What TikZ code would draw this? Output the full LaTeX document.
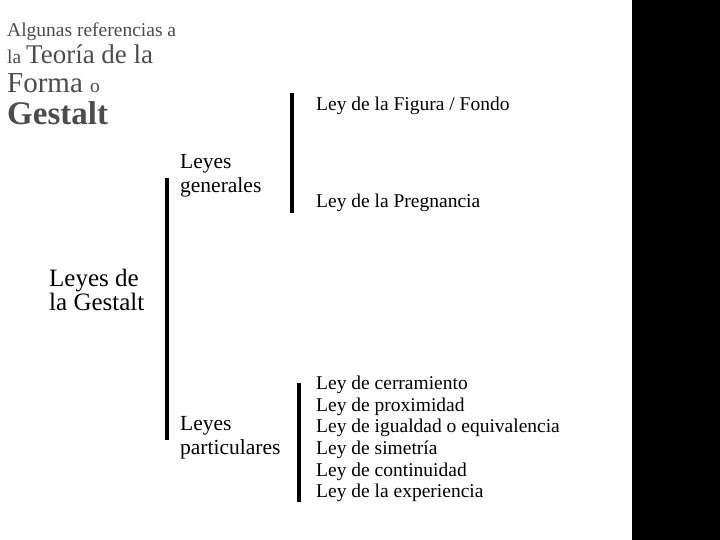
\documentclass[tikz,border=0pt]{standalone}
\usepackage{fontspec}
\setmainfont{Liberation Serif}
\begin{document}
\begin{tikzpicture}[x=1pt,y=-1pt,
  bar/.style={line width=4pt},
  item/.style={anchor=west,inner sep=0pt,font=\fontsize{19.5}{21.6}\selectfont,align=left},
  lab/.style={anchor=west,inner sep=0pt,font=\fontsize{21.5}{24}\selectfont,align=left},
  ttl/.style={anchor=base west,inner sep=0pt,text=black!70}]
\useasboundingbox (0,0) rectangle (720,540);
\fill[white] (0,0) rectangle (720,540);
\fill[black] (632,0) rectangle (720,540);
% title
\node[ttl,font=\fontsize{19.5}{20}\selectfont] (t1) at (7,37) {Algunas referencias a};
\node[ttl] (t2) at (7,64) {{\fontsize{19.5}{20}\selectfont la }{\fontsize{27}{28}\selectfont Teoría de la}};
\node[ttl] (t3) at (7,93) {{\fontsize{29}{30}\selectfont Forma }{\fontsize{19.5}{20}\selectfont o}};
\node[ttl,font=\fontsize{33}{34}\selectfont\bfseries] (t4) at (7,125) {Gestalt};
% labels
\node[lab,font=\fontsize{25}{24}\selectfont] (gest) at (49,290) {Leyes de\\la Gestalt};
\node[lab] (gen) at (180,176) {Leyes\\generales};
\node[lab] (par) at (180,438) {Leyes\\particulares};
\node[item] (fig) at (316,106) {Ley de la Figura / Fondo};
\node[item] (pre) at (316,203) {Ley de la Pregnancia};
\node[item] (lst) at (316,439) {Ley de cerramiento\\Ley de proximidad\\Ley de igualdad o equivalencia\\Ley de simetría\\Ley de continuidad\\Ley de la experiencia};
% bars
\coordinate (b1a) at (167,178); \coordinate (b1b) at (167,440);
\coordinate (b2a) at (292,93); \coordinate (b2b) at (292,213);
\coordinate (b3a) at (299,383); \coordinate (b3b) at (299,502);
\draw[bar] (b1a) -- (b1b);
\draw[bar] (b2a) -- (b2b);
\draw[bar] (b3a) -- (b3b);
\end{tikzpicture}
\end{document}
